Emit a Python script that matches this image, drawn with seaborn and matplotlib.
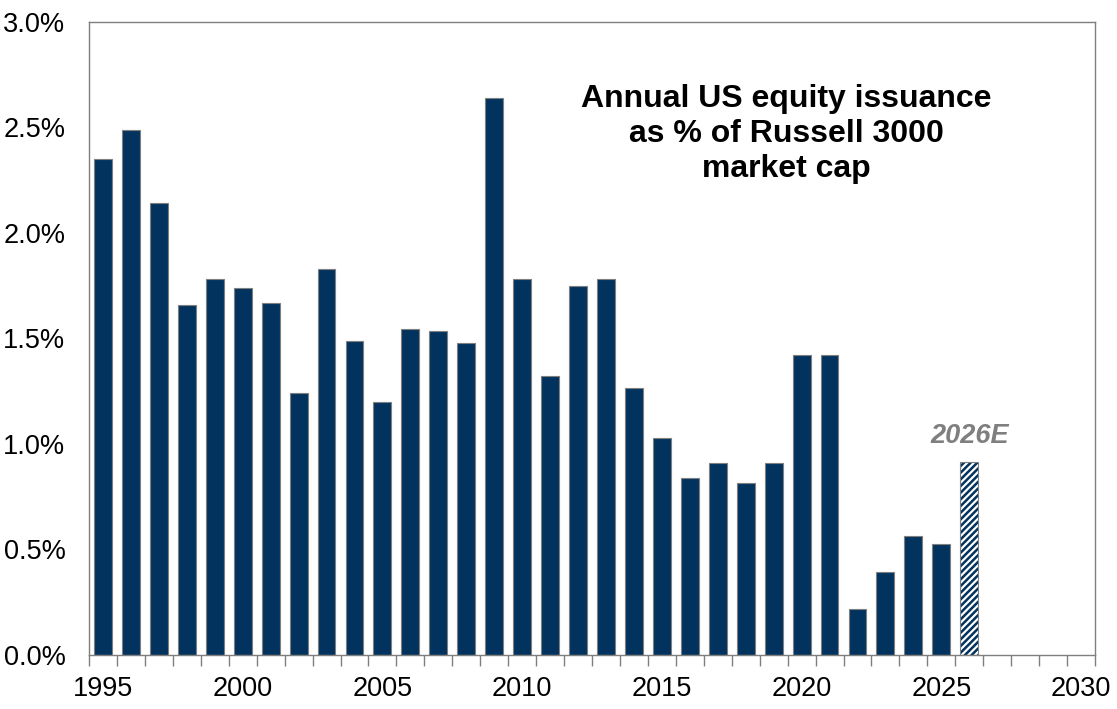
import numpy as np
import pandas as pd
import seaborn as sns
import matplotlib
matplotlib.use("Agg")
import matplotlib.pyplot as plt
from matplotlib.ticker import FuncFormatter, MultipleLocator

years = list(range(1995, 2026))
issuance_pct = [
    2.35, 2.49, 2.14, 1.66, 1.78, 1.74, 1.67, 1.24, 1.83, 1.49,
    1.20, 1.545, 1.535, 1.48, 2.64, 1.78, 1.32, 1.75, 1.78, 1.265,
    1.03, 0.84, 0.91, 0.815, 0.91, 1.42, 1.42, 0.218, 0.393, 0.564,
    0.526,
]
est_year = 2026
est_pct = 0.915
est_label = "2026E"
title = "Annual US equity issuance\nas % of Russell 3000\nmarket cap"

navy = "#02335e"
edge_gray = "#7f7f7f"

sns.set_style("white")
plt.rcParams["font.family"] = ["Liberation Sans", "DejaVu Sans"]
plt.rcParams["hatch.linewidth"] = 1.8

df = pd.DataFrame({"year": years + [est_year], "pct": issuance_pct + [est_pct]})

fig = plt.figure(figsize=(11.17, 7.09), dpi=100)
ax = fig.add_axes([0.0797, 0.0762, 0.9006, 0.8928])

sns.barplot(data=df, x="year", y="pct", native_scale=True, color=navy,
            saturation=1, width=0.64, edgecolor=edge_gray, linewidth=0.8,
            err_kws={"linewidth": 0}, ax=ax)

# estimate bar: white with navy hatching
for p in ax.patches:
    cx = p.get_x() + p.get_width() / 2
    if abs(cx - est_year) < 0.01:
        p.set_facecolor("white")
        p.set_edgecolor(navy)
        p.set_hatch("/////")
        p.set_linewidth(0)
ax.bar([est_year], [est_pct], width=0.64, fill=False, edgecolor=edge_gray,
       linewidth=0.8, zorder=3)

ax.text(est_year, est_pct + 0.06, est_label, ha="center", va="bottom",
        fontsize=19.5, fontweight="bold", fontstyle="italic", color="#7f7f7f")

ax.text(0.693, 0.823, title, transform=ax.transAxes, ha="center", va="center",
        fontsize=23, fontweight="bold", color="black", linespacing=1.22)

ax.set_xlim(1994.5, 2030.5)
ax.set_ylim(0, 3.0)
ax.xaxis.set_major_locator(MultipleLocator(5))
ax.xaxis.set_minor_locator(MultipleLocator(1, offset=0.5))
ax.xaxis.set_major_formatter(FuncFormatter(lambda v, _: f"{int(round(v))}"))
ax.yaxis.set_major_locator(MultipleLocator(0.5))
ax.yaxis.set_major_formatter(FuncFormatter(lambda v, _: f"{v:.1f}%"))

ax.tick_params(axis="x", which="major", length=0, pad=15, labelsize=19.5,
               labelcolor="black")
ax.tick_params(axis="x", which="minor", length=8, width=1, color=edge_gray,
               direction="out", bottom=True)
ax.tick_params(axis="y", length=0, pad=17, labelsize=19.5, labelcolor="black")

for s in ax.spines.values():
    s.set_visible(True)
    s.set_color(edge_gray)
    s.set_linewidth(1)

ax.set_xlabel("")
ax.set_ylabel("")

fig.savefig("out.png", dpi=100)
